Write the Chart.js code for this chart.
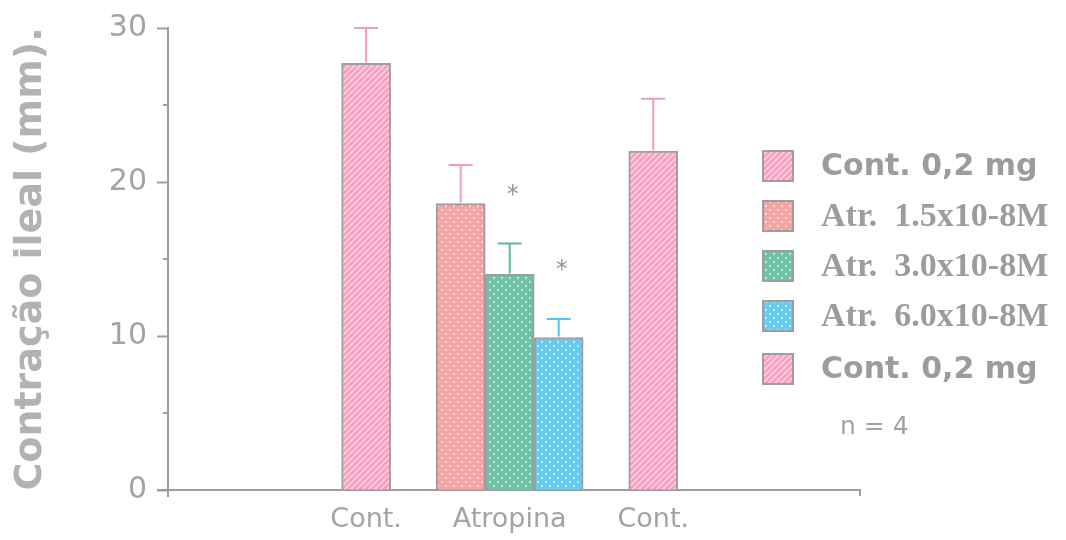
<!DOCTYPE html>
<html>
<head>
<meta charset="utf-8">
<script src="https://cdn.jsdelivr.net/npm/chart.js@4"></script>
<style>
  html, body { margin: 0; padding: 0; background: #fff; }
  #wrap { width: 1066px; height: 540px; }
</style>
</head>
<body>
<div id="wrap"><canvas id="ileoChart"></canvas></div>
<script>
// grupos no eixo x
const grupos = ['Cont.', 'Atropina', 'Cont.'];
// series (uma por dose), valores medios em mm
const nomesSeries = ['Cont. 0,2 mg', 'Atr.  1.5x10-8M', 'Atr.  3.0x10-8M', 'Atr.  6.0x10-8M', 'Cont. 0,2 mg'];
const contInicial = [27.7, null, null];
const atr15 = [null, 18.6, null];
const atr30 = [null, 14.0, null];
const atr60 = [null, 9.9, null];
const contFinal = [null, null, 22.0];
// erro padrao de cada serie
const erroPadrao = [2.3, 2.5, 2.0, 1.2, 3.4];
const signif = ['', '', '*', '*', ''];
const yTicks = [0, 10, 20, 30];
const yMinor = [5, 15, 25];
const nAmostra = 'n = 4';

const CINZA = '#a29ca2';
const TEXTO = '#a3a3a3';

function padrao(base, tipo) {
  const c = document.createElement('canvas');
  const s = tipo === 'hatch' ? 6 : 8;
  c.width = s; c.height = s;
  const g = c.getContext('2d');
  g.fillStyle = base;
  g.fillRect(0, 0, s, s);
  if (tipo === 'hatch') {
    g.strokeStyle = 'rgba(255,255,255,0.7)';
    g.lineWidth = 1.1;
    g.beginPath();
    g.moveTo(-1, s + 1); g.lineTo(s + 1, -1);
    g.moveTo(-1, 1); g.lineTo(1, -1);
    g.moveTo(s - 1, s + 1); g.lineTo(s + 1, s - 1);
    g.stroke();
  } else {
    g.fillStyle = 'rgba(255,255,255,0.85)';
    g.beginPath();
    g.arc(2, 2, 0.9, 0, Math.PI * 2);
    g.arc(6, 6, 0.9, 0, Math.PI * 2);
    g.fill();
  }
  return g.createPattern(c, 'repeat');
}

const estilos = [
  { fill: padrao('#f5a3c3', 'hatch'), erro: '#f39abd', fonte: 'bold 30px "DejaVu Sans"' },
  { fill: padrao('#f3a5a1', 'dots'), erro: '#f39abd', fonte: 'bold 34px "Liberation Serif"' },
  { fill: padrao('#6fc3a4', 'dots'), erro: '#5bb99b', fonte: 'bold 34px "Liberation Serif"' },
  { fill: padrao('#66ccee', 'dots'), erro: '#56c4e6', fonte: 'bold 34px "Liberation Serif"' },
  { fill: padrao('#f5a3c3', 'hatch'), erro: '#f39abd', fonte: 'bold 30px "DejaVu Sans"' }
];
const valores = [contInicial, atr15, atr30, atr60, contFinal];

// barras de erro, asteriscos, ticks menores e legenda
const extras = {
  id: 'extras',
  afterDatasetsDraw(chart) {
    const ctx = chart.ctx;
    const y = chart.scales.y;
    const area = chart.chartArea;
    ctx.save();
    valores.forEach((serie, i) => {
      const meta = chart.getDatasetMeta(i);
      serie.forEach((v, j) => {
        if (v === null) return;
        const bar = meta.data[j];
        const topo = y.getPixelForValue(v + erroPadrao[i]);
        ctx.strokeStyle = estilos[i].erro;
        ctx.lineWidth = 2;
        ctx.beginPath();
        ctx.moveTo(bar.x, bar.y - 1);
        ctx.lineTo(bar.x, topo);
        ctx.moveTo(bar.x - 12, topo);
        ctx.lineTo(bar.x + 12, topo);
        ctx.stroke();
        if (signif[i]) {
          ctx.fillStyle = '#969696';
          ctx.font = '24px "DejaVu Sans"';
          ctx.textAlign = 'center';
          ctx.textBaseline = 'middle';
          ctx.fillText(signif[i], bar.x + 3, topo - 48);
        }
      });
    });

    // ticks menores e prolongamentos dos eixos
    ctx.strokeStyle = CINZA;
    ctx.lineWidth = 2;
    ctx.beginPath();
    yMinor.forEach(v => {
      const py = y.getPixelForValue(v);
      ctx.moveTo(area.left - 5, py);
      ctx.lineTo(area.left, py);
    });
    ctx.moveTo(area.left, area.bottom);
    ctx.lineTo(area.left, area.bottom + 7);
    ctx.moveTo(area.left - 11, area.bottom);
    ctx.lineTo(area.left, area.bottom);
    ctx.moveTo(area.right, area.bottom);
    ctx.lineTo(area.right, area.bottom + 6);
    ctx.stroke();

    // legenda
    const lx = area.right - 97;
    const linhas = [166, 216, 266, 316, 369];
    nomesSeries.forEach((nome, i) => {
      const cy = linhas[i];
      ctx.fillStyle = estilos[i].fill;
      ctx.fillRect(lx, cy - 15, 30, 30);
      ctx.strokeStyle = CINZA;
      ctx.lineWidth = 2;
      ctx.strokeRect(lx, cy - 15, 30, 30);
      ctx.fillStyle = '#9c9c9c';
      ctx.font = estilos[i].fonte;
      ctx.textAlign = 'left';
      ctx.textBaseline = 'middle';
      ctx.fillText(nome, lx + 58, cy + 1);
    });
    ctx.fillStyle = TEXTO;
    ctx.font = '25px "DejaVu Sans"';
    ctx.fillText(nAmostra, lx + 77, 427);
    ctx.restore();
  }
};

new Chart(document.getElementById('ileoChart'), {
  type: 'bar',
  data: {
    labels: grupos.map((_, i) => i),
    datasets: valores.map((serie, i) => ({
      label: nomesSeries[i],
      data: serie,
      backgroundColor: estilos[i].fill,
      borderColor: CINZA,
      borderWidth: 2,
      borderSkipped: 'bottom',
      barThickness: 49,
      skipNull: true
    }))
  },
  options: {
    responsive: true,
    maintainAspectRatio: false,
    animation: false,
    devicePixelRatio: 1,
    layout: { padding: { left: 8, top: 26, right: 206, bottom: 0 } },
    plugins: { legend: { display: false }, tooltip: { enabled: false } },
    scales: {
      x: {
        type: 'linear',
        offset: false,
        min: -1.38,
        max: 3.44,
        afterBuildTicks: s => { s.ticks = grupos.map((_, i) => ({ value: i })); },
        afterFit: s => { s.height = 50; },
        grid: { offset: false, drawOnChartArea: false, drawTicks: false },
        border: { color: CINZA, width: 2 },
        ticks: {
          callback: v => grupos[v],
          color: TEXTO,
          font: { family: 'DejaVu Sans', size: 27 },
          padding: 14,
          maxRotation: 0
        }
      },
      y: {
        min: 0,
        max: 30,
        afterBuildTicks: s => { s.ticks = yTicks.map(v => ({ value: v })); },
        afterFit: s => { s.width = 160; },
        grid: { drawOnChartArea: false, tickLength: 11, tickColor: CINZA, tickWidth: 2 },
        border: { color: CINZA, width: 2 },
        ticks: {
          color: TEXTO,
          font: { family: 'DejaVu Sans', size: 30 },
          padding: 10
        },
        title: {
          display: true,
          text: 'Contração ileal (mm).',
          color: '#b2b2b2',
          font: { family: 'DejaVu Sans', size: 38, weight: 'bold' },
          padding: { top: 0, bottom: 0 }
        }
      }
    }
  },
  plugins: [extras]
});
</script>
</body>
</html>
